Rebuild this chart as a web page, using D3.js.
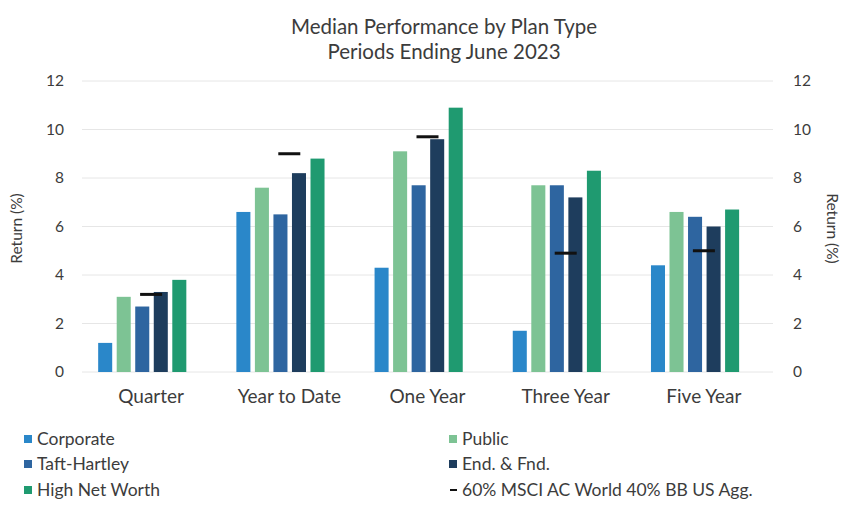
<!DOCTYPE html>
<html>
<head>
<meta charset="utf-8">
<script src="https://cdn.jsdelivr.net/npm/d3@7"></script>
<style>
  body { margin: 0; background: #fff; }
  svg { font-family: Lato, "Open Sans", sans-serif; }
</style>
</head>
<body>
<svg id="chart" width="841" height="512"></svg>
<script>
"use strict";

// categories and series
const periods = ["Quarter", "Year to Date", "One Year", "Three Year", "Five Year"];
const seriesNames = ["Corporate", "Public", "Taft-Hartley", "End. & Fnd.", "High Net Worth"];
const corporate = [1.2, 6.6, 4.3, 1.7, 4.4];
const publicPlans = [3.1, 7.6, 9.1, 7.7, 6.6];
const taftHartley = [2.7, 6.5, 7.7, 7.7, 6.4];
const endFnd = [3.3, 8.2, 9.6, 7.2, 6.0];
const highNetWorth = [3.8, 8.8, 10.9, 8.3, 6.7];
const benchmark = [3.2, 9.0, 9.7, 4.9, 5.0];
const benchmarkName = "60% MSCI AC World 40% BB US Agg.";
const yTicks = [0, 2, 4, 6, 8, 10, 12];

const colors = ["#2a87c9", "#7dc394", "#2e65a0", "#1e3d5d", "#1f9a70"];
const seriesValues = [corporate, publicPlans, taftHartley, endFnd, highNetWorth];
const textColor = "#3c3c3c";

const svg = d3.select("#chart");
const margin = {top: 81, right: 68, bottom: 140, left: 82};
const width = 841 - margin.left - margin.right;
const height = 512 - margin.top - margin.bottom;

const g = svg.append("g")
    .attr("transform", "translate(" + margin.left + "," + margin.top + ")");

// title
svg.append("text")
    .attr("x", 444).attr("y", 34)
    .attr("text-anchor", "middle")
    .attr("font-size", 20.5).attr("fill", textColor)
    .text("Median Performance by Plan Type");
svg.append("text")
    .attr("x", 444).attr("y", 59)
    .attr("text-anchor", "middle")
    .attr("font-size", 20.5).attr("fill", textColor)
    .text("Periods Ending June 2023");

const x0 = d3.scaleBand().domain(periods).range([0, width]);
// six slots: Excel keeps an empty slot for the benchmark series
const x1 = d3.scaleBand()
    .domain(d3.range(6))
    .range([x0.bandwidth() * 0.117, x0.bandwidth() * 0.889])
    .paddingInner(0.243);
const y = d3.scaleLinear().domain([0, 12]).range([height, 0]);

// gridlines
g.append("g").selectAll("line")
    .data(yTicks)
    .join("line")
    .attr("x1", 0).attr("x2", width)
    .attr("y1", d => y(d)).attr("y2", d => y(d))
    .attr("stroke", "#e6e6e6").attr("stroke-width", 1);

// left axis
const yLeft = g.append("g")
    .call(d3.axisLeft(y).tickValues(yTicks).tickSize(0).tickPadding(18));
yLeft.select(".domain").remove();
yLeft.selectAll("text").attr("font-size", 15.5).attr("fill", textColor)
    .attr("font-family", "Lato, sans-serif");

// right axis
const yRight = g.append("g")
    .attr("transform", "translate(" + width + ",0)")
    .call(d3.axisRight(y).tickValues(yTicks).tickSize(0).tickPadding(20));
yRight.select(".domain").remove();
yRight.selectAll("text").attr("font-size", 15.5).attr("fill", textColor)
    .attr("font-family", "Lato, sans-serif");

// axis titles
svg.append("text")
    .attr("transform", "translate(22," + (margin.top + height / 2 + 2) + ") rotate(-90)")
    .attr("text-anchor", "middle")
    .attr("font-size", 15.5).attr("fill", textColor)
    .text("Return (%)");
svg.append("text")
    .attr("transform", "translate(827," + (margin.top + height / 2 + 2) + ") rotate(90)")
    .attr("text-anchor", "middle")
    .attr("font-size", 15.5).attr("fill", textColor)
    .text("Return (%)");

// x axis labels
const xAxis = g.append("g")
    .attr("transform", "translate(0," + height + ")")
    .call(d3.axisBottom(x0).tickSize(0).tickPadding(18));
xAxis.select(".domain").remove();
xAxis.selectAll("text").attr("font-size", 19).attr("fill", textColor)
    .attr("font-family", "Lato, sans-serif");

// bars
const groups = g.append("g").selectAll("g")
    .data(periods)
    .join("g")
    .attr("transform", d => "translate(" + x0(d) + ",0)");

groups.selectAll("rect")
    .data((p, i) => seriesValues.map((vals, s) => ({s: s, v: vals[i]})))
    .join("rect")
    .attr("x", d => x1(d.s))
    .attr("width", x1.bandwidth())
    .attr("y", d => y(d.v))
    .attr("height", d => y(0) - y(d.v))
    .attr("fill", d => colors[d.s]);

// benchmark dash markers
g.append("g").selectAll("rect")
    .data(periods)
    .join("rect")
    .attr("x", d => x0(d) + x0.bandwidth() / 2 - 11)
    .attr("y", (d, i) => y(benchmark[i]) - 1.5)
    .attr("width", 22)
    .attr("height", 3)
    .attr("fill", "#111");

// legend
const legendItems = [
    {name: seriesNames[0], color: colors[0], x: 24, y: 439},
    {name: seriesNames[1], color: colors[1], x: 449, y: 439},
    {name: seriesNames[2], color: colors[2], x: 24, y: 464},
    {name: seriesNames[3], color: colors[3], x: 449, y: 464},
    {name: seriesNames[4], color: colors[4], x: 24, y: 490}
];
const legend = svg.append("g");
legendItems.forEach(function (d) {
    legend.append("rect")
        .attr("x", d.x).attr("y", d.y - 4)
        .attr("width", 8).attr("height", 8)
        .attr("fill", d.color);
    legend.append("text")
        .attr("x", d.x + 13).attr("y", d.y + 6)
        .attr("font-size", 17.5).attr("fill", textColor)
        .text(d.name);
});
legend.append("rect")
    .attr("x", 450).attr("y", 489)
    .attr("width", 7).attr("height", 2)
    .attr("fill", "#111");
legend.append("text")
    .attr("x", 462).attr("y", 496)
    .attr("font-size", 17.5).attr("fill", textColor)
    .text(benchmarkName);
</script>
</body>
</html>
